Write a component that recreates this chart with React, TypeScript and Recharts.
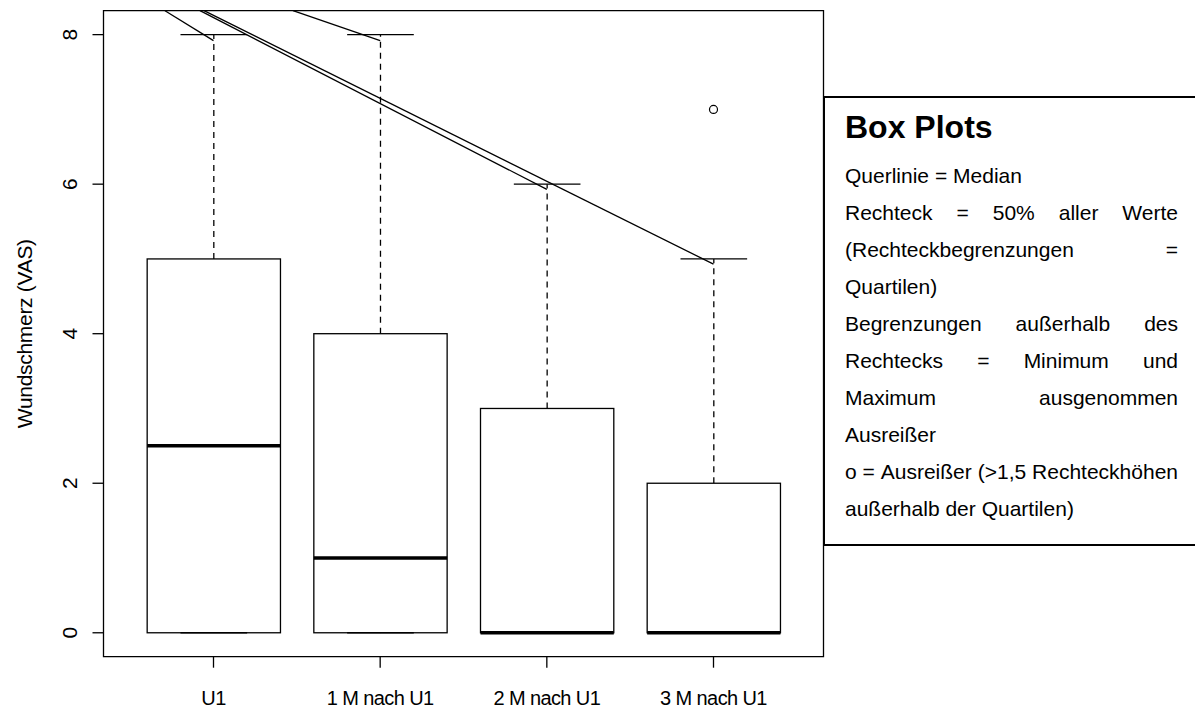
import { ComposedChart, Bar, Scatter, XAxis, YAxis, ReferenceArea, ReferenceLine } from "recharts";

const FONT = '"Liberation Sans", Arial, sans-serif';

const categories = ["U1", "1 M nach U1", "2 M nach U1", "3 M nach U1"];
const whiskerLow = [0, 0, 0, 0];
const lowerQuartile = [0, 0, 0, 0];
const medians = [2.5, 1, 0, 0];
const upperQuartile = [5, 4, 3, 2];
const whiskerHigh = [8, 8, 6, 5];
const outliers = [{ x: 4, y: 7 }];
const yTicks = [0, 2, 4, 6, 8];

// hand drawn connector lines of the original figure, in data units
const connectors = [
  { x1: 0.709, y1: 8.32, x2: 1, y2: 7.92 },
  { x1: 1.477, y1: 8.32, x2: 2, y2: 7.92 },
  { x1: 0.919, y1: 8.32, x2: 3, y2: 5.93 },
  { x1: 0.943, y1: 8.32, x2: 4, y2: 4.93 },
];

const legendTitle = "Box Plots";
const legendLines: [string, boolean][] = [
  ["Querlinie = Median", false],
  ["Rechteck = 50% aller Werte", true],
  ["(Rechteckbegrenzungen =", true],
  ["Quartilen)", false],
  ["Begrenzungen außerhalb des", true],
  ["Rechtecks = Minimum und", true],
  ["Maximum ausgenommen", true],
  ["Ausreißer", false],
  ["o = Ausreißer (>1,5 Rechteckhöhen", true],
  ["außerhalb der Quartilen)", false],
];

const boxes = categories.map((name, i) => ({
  x: i + 1,
  name,
  lo: whiskerLow[i],
  q1: lowerQuartile[i],
  med: medians[i],
  q3: upperQuartile[i],
  hi: whiskerHigh[i],
}));

function BoxShape(props: any) {
  const { x, y, width, height, payload } = props;
  const { lo, q1, med, q3, hi } = payload;
  const py = (v: number) => y + (height * (hi - v)) / (hi - lo);
  const cx = x + width / 2;
  const cap = width / 4;
  const s = { stroke: "#000", strokeWidth: 1.3, fill: "none" };
  return (
    <g>
      <path d={`M${cx},${py(q3)}V${py(hi)}`} {...s} strokeDasharray="6 5" />
      <path d={`M${cx},${py(q1)}V${py(lo)}`} {...s} strokeDasharray="6 5" />
      <line x1={cx - cap} x2={cx + cap} y1={py(hi)} y2={py(hi)} {...s} />
      <rect x={x} y={py(q3)} width={width} height={py(q1) - py(q3)} fill="#fff" stroke="#000" strokeWidth={1.3} />
      <line x1={cx - cap} x2={cx + cap} y1={py(lo)} y2={py(lo)} {...s} />
      <line x1={x} x2={x + width} y1={py(med)} y2={py(med)} stroke="#000" strokeWidth={3.5} />
    </g>
  );
}

function Outlier(props: any) {
  return <circle cx={props.cx} cy={props.cy} r={4} fill="none" stroke="#000" strokeWidth={1.2} />;
}

function XTick(props: any) {
  const { x, y, payload } = props;
  return (
    <text x={x} y={y + 35} textAnchor="middle" fontSize={20} letterSpacing={-0.6} fontFamily={FONT} fill="#000">
      {categories[payload.value - 1]}
    </text>
  );
}

function YTick(props: any) {
  const { x, y, payload } = props;
  const tx = x - 13;
  return (
    <text x={tx} y={y} transform={`rotate(-90 ${tx} ${y})`} textAnchor="middle" fontSize={21} fontFamily={FONT} fill="#000">
      {payload.value}
    </text>
  );
}

function YTitle() {
  return (
    <text x={32} y={333.7} transform="rotate(-90 32 333.7)" textAnchor="middle" fontSize={21} letterSpacing={-0.3} fontFamily={FONT} fill="#000">
      Wundschmerz (VAS)
    </text>
  );
}

export default function App() {
  return (
    <div style={{ position: "absolute", left: 0, top: 0, width: 1195, height: 709, background: "#fff", overflow: "hidden", fontFamily: FONT }}>
      <ComposedChart width={1195} height={709} data={boxes} margin={{ top: 10.7, right: 371.5, bottom: 0, left: 0 }}>
        <XAxis
          dataKey="x"
          type="number"
          domain={[0.34, 4.66]}
          ticks={[1, 2, 3, 4]}
          allowDataOverflow
          interval={0}
          height={52.3}
          axisLine={false}
          tickSize={11}
          tickLine={{ stroke: "#000", strokeWidth: 1.3 }}
          tick={<XTick />}
        />
        <YAxis
          type="number"
          domain={[-0.32, 8.32]}
          ticks={yTicks}
          allowDataOverflow
          interval={0}
          width={103.5}
          axisLine={false}
          tickSize={11}
          tickLine={{ stroke: "#000", strokeWidth: 1.3 }}
          tick={<YTick />}
          label={<YTitle />}
        />
        <ReferenceArea x1={0.34} x2={4.66} y1={-0.32} y2={8.32} fill="none" fillOpacity={0} stroke="#000" strokeWidth={1.3} ifOverflow="visible" />
        <Bar dataKey={(d: any) => [d.lo, d.hi]} barSize={133.3} shape={BoxShape} isAnimationActive={false} />
        <Scatter data={outliers} dataKey="y" shape={Outlier} isAnimationActive={false} />
        {connectors.map((c, i) => (
          <ReferenceLine
            key={i}
            segment={[{ x: c.x1, y: c.y1 }, { x: c.x2, y: c.y2 }]}
            stroke="#000"
            strokeWidth={1.3}
            ifOverflow="visible"
          />
        ))}
      </ComposedChart>

      <div
        style={{
          position: "absolute",
          left: 822.5,
          top: 96,
          width: 400,
          height: 450,
          boxSizing: "border-box",
          border: "2px solid #000",
          background: "#fff",
        }}
      />
      <div style={{ position: "absolute", left: 845, top: 106.9, fontSize: 32, lineHeight: "40px", fontWeight: "bold", color: "#000", whiteSpace: "nowrap" }}>
        {legendTitle}
      </div>
      {legendLines.map(([line, justify], i) => (
        <div
          key={i}
          style={{
            position: "absolute",
            left: 845,
            top: 157.2 + i * 37,
            width: 333,
            fontSize: 21,
            lineHeight: "37px",
            color: "#000",
            whiteSpace: "nowrap",
            display: "flex",
            justifyContent: justify ? "space-between" : "flex-start",
            gap: justify ? 0 : "0.28em",
          }}
        >
          {line.split(" ").map((w, j) => (
            <span key={j}>{w}</span>
          ))}
        </div>
      ))}
    </div>
  );
}
